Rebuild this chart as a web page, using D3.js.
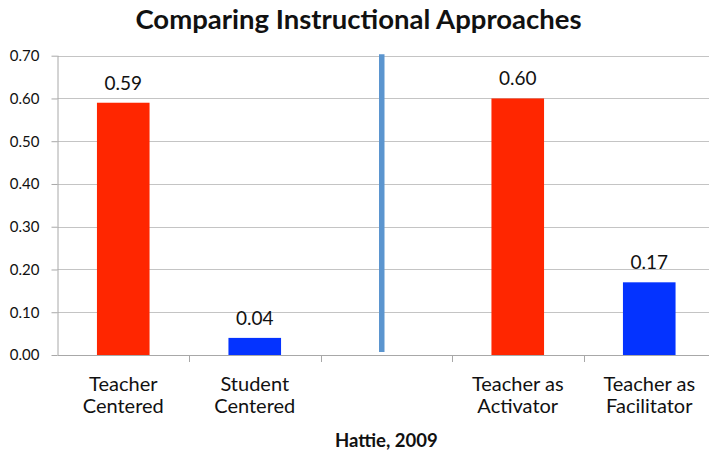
<!DOCTYPE html>
<html><head><meta charset="utf-8">
<script src="https://cdn.jsdelivr.net/npm/d3@7"></script>
<style>body{margin:0;background:#fff}svg{display:block}text{font-family:Lato,"Open Sans",sans-serif;fill:#111}</style>
</head><body><svg id="c" width="709" height="453"></svg>
<script>
const categories = [["Teacher","Centered"],["Student","Centered"],[],["Teacher as","Activator"],["Teacher as","Facilitator"]];
const values = [0.59, 0.04, null, 0.60, 0.17];
const barColors = ["#FF2600","#0433FF",null,"#FF2600","#0433FF"];
const yTicks = [0,0.1,0.2,0.3,0.4,0.5,0.6,0.7];
const dividerIndex = 2, dividerValue = 0.70;
const title = "Comparing Instructional Approaches";
const xTitle = "Hattie, 2009";

(function(){
const svg = d3.select("#c");
const mLeft = 57.5, mRight = 715, mTop = 55.7, mBottom = 355;
const idx = categories.map((d,i)=>i);
const x = d3.scaleBand().domain(idx).range([mLeft,mRight]).paddingInner(0.6).paddingOuter(0.3);
const y = d3.scaleLinear().domain([0,0.7]).range([mBottom, mTop]);

// gridlines
svg.append("g").selectAll("line").data(yTicks.filter(t=>t>0)).join("line")
  .attr("x1",mLeft).attr("x2",mRight).attr("y1",d=>Math.round(y(d))+0.5).attr("y2",d=>Math.round(y(d))+0.5)
  .attr("stroke","#c4c4c4").attr("stroke-width",1);

// y axis
const ya = svg.append("g").attr("transform",`translate(${mLeft},0)`)
  .call(d3.axisLeft(y).tickValues(yTicks).tickFormat(d3.format(".2f")).tickSize(6).tickPadding(12));
ya.select(".domain").attr("stroke","#a8a8a8").attr("d",`M0.5,${y(0.7)}V${y(0)}`);
ya.selectAll(".tick line").attr("stroke","#a8a8a8");
ya.selectAll(".tick text").style("font-size","15px").attr("fill","#111").style("font-family","Lato");

// x axis baseline & ticks at band boundaries
const step = x.step();
const boundaries = d3.range(1, categories.length+1).map(i=> mLeft + i*step);
svg.append("line").attr("x1",mLeft).attr("x2",mRight).attr("y1",Math.round(mBottom)+0.5).attr("y2",Math.round(mBottom)+0.5).attr("stroke","#a8a8a8");
svg.append("g").selectAll("line").data(boundaries).join("line")
  .attr("x1",d=>Math.round(d)+0.5).attr("x2",d=>Math.round(d)+0.5).attr("y1",mBottom).attr("y2",mBottom+7).attr("stroke","#a8a8a8");

// bars
const bars = idx.filter(i=>values[i]!=null);
svg.append("g").selectAll("rect").data(bars).join("rect")
  .attr("x",i=>x(i)).attr("width",x.bandwidth())
  .attr("y",i=>y(values[i])).attr("height",i=>y(0)-y(values[i]))
  .attr("fill",i=>barColors[i]);

// value labels
svg.append("g").selectAll("text").data(bars).join("text")
  .attr("x",i=>x(i)+x.bandwidth()/2).attr("y",i=>y(values[i])-13)
  .attr("text-anchor","middle").style("font-size","19px")
  .text(i=>d3.format(".2f")(values[i]));

// divider line
const dx = x(dividerIndex)+x.bandwidth()/2 - 4.5;
svg.append("line").attr("x1",dx).attr("x2",dx).attr("y1",y(dividerValue)-1.5).attr("y2",y(0)-3)
  .attr("stroke","#5b95cf").attr("stroke-width",5.5);

// category labels
const cl = svg.append("g").selectAll("text").data(idx).join("text")
  .attr("text-anchor","middle").style("font-size","20px")
  .attr("transform",i=>`translate(${x(i)+x.bandwidth()/2},391)`);
cl.selectAll("tspan").data(i=>categories[i]).join("tspan")
  .attr("x",0).attr("y",(d,j)=>j*22).text(d=>d);

// titles
svg.append("text").attr("x",358.5).attr("y",29).attr("text-anchor","middle")
  .style("font-size","27.5px").style("font-weight","bold").text(title);
svg.append("text").attr("x",(mLeft+mRight)/2).attr("y",447.3).attr("text-anchor","middle")
  .style("font-size","18.5px").style("font-weight","bold").text(xTitle);
})();
</script></body></html>
